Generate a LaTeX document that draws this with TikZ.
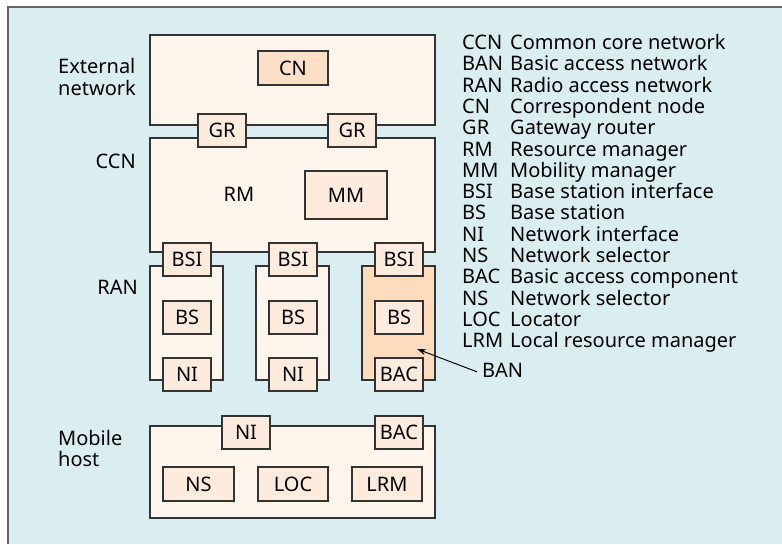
\documentclass[tikz,border=0pt]{standalone}
\usepackage{fontspec}
\setmainfont{Noto Sans}
\usetikzlibrary{arrows.meta}
\definecolor{bgblue}{HTML}{DAEDF0}
\definecolor{bigfill}{HTML}{FEF5EC}
\definecolor{smallfill}{HTML}{FDEBDD}
\definecolor{cnfill}{HTML}{FDE0C8}
\definecolor{banfill}{HTML}{FDDCBE}
\definecolor{edge}{HTML}{333333}
\definecolor{frame}{HTML}{666666}
\tikzset{
  txt/.style={font=\fontsize{20}{21.3}\selectfont, inner sep=0pt, text=black},
  bigbox/.style={draw=edge, line width=1.2pt, fill=bigfill, inner sep=0pt},
  smallbox/.style={draw=edge, line width=1.2pt, fill=smallfill, inner sep=0pt,
     font=\fontsize{20}{21.3}\selectfont, minimum width=48pt, minimum height=33pt},
  wbox/.style={smallbox, minimum width=70pt, minimum height=34pt},
  arr/.style={-{Stealth[length=9pt,width=6pt]}, line width=1pt, draw=black}
}
\begin{document}
\begin{tikzpicture}[x=1pt,y=-1pt]
\useasboundingbox (0,0) rectangle (782,544);
\fill[white] (0,0) rectangle (782,544);
\fill[bgblue] (8,7) rectangle (782,544);
\draw[frame, line width=1.5pt] (8,544) -- (8,7) -- (782,7);

% big boxes
\node[bigbox, minimum width=285pt, minimum height=90pt] (ext) at (292.5,80) {};
\node[bigbox, minimum width=285pt, minimum height=114pt] (ccn) at (292.5,195) {};
\node[bigbox, minimum width=73pt, minimum height=114pt] (ran1) at (186.5,323) {};
\node[bigbox, minimum width=73pt, minimum height=114pt] (ran2) at (292.5,323) {};
\node[bigbox, fill=banfill, minimum width=73pt, minimum height=114pt] (ran3) at (398.5,323) {};
\node[bigbox, minimum width=285pt, minimum height=92pt] (host) at (292.5,472) {};

% inner boxes
\node[smallbox, fill=cnfill, minimum width=70pt, minimum height=34pt] (cn) at (293,68) {CN};
\node[smallbox] (gr1) at (222,130.5) {GR};
\node[smallbox] (gr2) at (352,130.5) {GR};
\node[txt] (rm) at (239,194) {RM};
\node[smallbox, minimum width=82pt, minimum height=48pt] (mm) at (346,195) {MM};

\node[smallbox] (bsi1) at (187,259.5) {BSI};
\node[smallbox] (bsi2) at (293,259.5) {BSI};
\node[smallbox] (bsi3) at (399,259.5) {BSI};
\node[smallbox] (bs1) at (187,317.5) {BS};
\node[smallbox] (bs2) at (293,317.5) {BS};
\node[smallbox] (bs3) at (399,317.5) {BS};
\node[smallbox] (ni1) at (187,374.5) {NI};
\node[smallbox] (ni2) at (293,374.5) {NI};
\node[smallbox] (bac1) at (399,374.5) {BAC};

\node[smallbox] (hni) at (246,432.5) {NI};
\node[smallbox] (hbac) at (399,432.5) {BAC};
\node[smallbox, minimum width=71pt, minimum height=34pt] (ns) at (198.5,484) {NS};
\node[wbox] (loc) at (293,484) {LOC};
\node[wbox] (lrm) at (387,484) {LRM};

% side labels
\node[txt, anchor=base west, align=left] (lext) at (58,95) {External\\network};
\node[txt, anchor=base east] (lccn) at (136,168) {CCN};
\node[txt, anchor=base east] (lran) at (138,294) {RAN};
\node[txt, anchor=base west, align=left] (lhost) at (58,466.7) {Mobile\\host};

% BAN pointer
\node[txt, anchor=base west] (ban) at (482,377) {BAN};
\coordinate (bantip) at (417,349);
\draw[arr] ([xshift=-5pt,yshift=-2pt]ban.west) -- (bantip);

% legend
\foreach \a/\d [count=\i from 0] in {CCN/Common core network, BAN/Basic access network,
  RAN/Radio access network, CN/Correspondent node, GR/Gateway router,
  RM/Resource manager, MM/Mobility manager, BSI/Base station interface,
  BS/Base station, NI/Network interface, NS/Network selector,
  BAC/Basic access component, NS/Network selector, LOC/Locator,
  LRM/Local resource manager}{
  \node[txt, anchor=base west] (ab\i) at (462,49.5+21.3*\i) {\a};
  \node[txt, anchor=base west] (de\i) at (510,49.5+21.3*\i) {\d};
}
\end{tikzpicture}
\end{document}
